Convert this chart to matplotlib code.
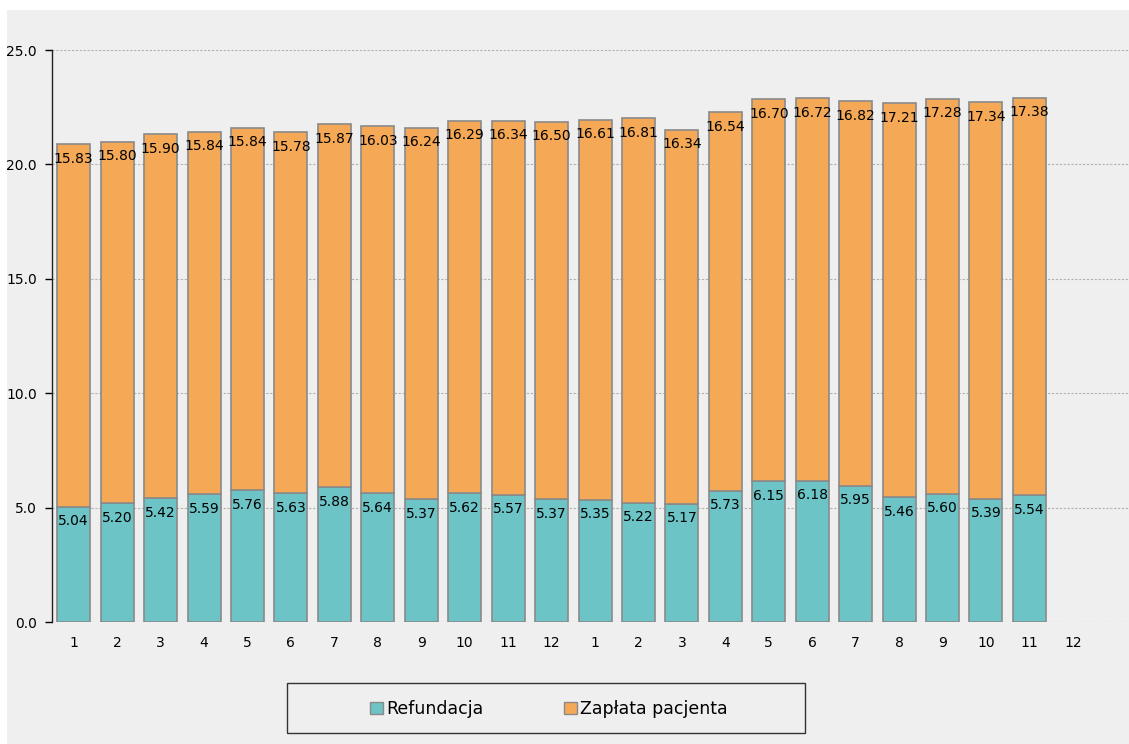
import matplotlib
matplotlib.use("Agg")
import matplotlib.pyplot as plt
from matplotlib.patches import Rectangle, Patch

months = ["1", "2", "3", "4", "5", "6", "7", "8", "9", "10", "11", "12",
          "1", "2", "3", "4", "5", "6", "7", "8", "9", "10", "11", "12"]
refundacja = [5.04, 5.20, 5.42, 5.59, 5.76, 5.63, 5.88, 5.64, 5.37, 5.62, 5.57, 5.37,
              5.35, 5.22, 5.17, 5.73, 6.15, 6.18, 5.95, 5.46, 5.60, 5.39, 5.54]
zaplata = [15.83, 15.80, 15.90, 15.84, 15.84, 15.78, 15.87, 16.03, 16.24, 16.29, 16.34, 16.50,
           16.61, 16.81, 16.34, 16.54, 16.70, 16.72, 16.82, 17.21, 17.28, 17.34, 17.38]
yticks = [0.0, 5.0, 10.0, 15.0, 20.0, 25.0]

W, H = 1129, 744
fig = plt.figure(figsize=(W / 100, H / 100), dpi=100)
fig.patch.set_facecolor("white")
bg = "#efefef"
fig.patches.append(Rectangle((7 / W, 0), 1 - 7 / W, 1 - 10 / H, transform=fig.transFigure,
                             facecolor=bg, edgecolor="none", zorder=-10))

left = 52 / W
right = 1135 / W
bottom = 1 - 622 / H
top = 1 - 50 / H
ax = fig.add_axes([left, bottom, right - left, top - bottom])
ax.set_facecolor(bg)

teal = "#6cc4c6"
orange = "#f5a855"
edge = "#8a8a8a"
n = len(refundacja)
x = list(range(n))
ax.bar(x, refundacja, width=0.76, color=teal, edgecolor=edge, linewidth=1.2, zorder=3)
ax.bar(x, zaplata, width=0.76, bottom=refundacja, color=orange, edgecolor=edge, linewidth=1.2, zorder=3)

fs = 10
for i in range(n):
    ax.annotate(f"{refundacja[i]:.2f}", (i, refundacja[i]), xytext=(0, -10.5),
                textcoords="offset points", ha="center", va="center", fontsize=fs, zorder=5)
    tot = refundacja[i] + zaplata[i]
    ax.annotate(f"{zaplata[i]:.2f}", (i, tot), xytext=(0, -10.5),
                textcoords="offset points", ha="center", va="center", fontsize=fs, zorder=5)

ax.set_ylim(0, 25)
ax.set_xlim(-0.5, (1135 - 74) / 43.43)
ax.set_yticks(yticks)
ax.set_yticklabels([f"{v:.1f}" for v in yticks], fontsize=10)
ax.set_xticks(range(len(months)))
ax.set_xticklabels(months, fontsize=10)
ax.tick_params(axis="x", length=0, pad=10)
ax.tick_params(axis="y", length=5, width=1, pad=6)
ax.yaxis.grid(True, color="#b0b0b0", linestyle=(0, (2, 1.5)), linewidth=0.8, zorder=1)
for s in ["top", "right", "bottom"]:
    ax.spines[s].set_visible(False)
ax.spines["left"].set_color("#222222")
ax.spines["left"].set_linewidth(1)
ax.spines["left"].set_zorder(4)

# legend frame
fig.patches.append(Rectangle((287 / W, 1 - 733 / H), (805 - 287) / W, (733 - 683) / H,
                             transform=fig.transFigure, facecolor=bg, edgecolor="#333333",
                             linewidth=1, zorder=-5))
handles = [Patch(facecolor=teal, edgecolor=edge, label="Refundacja"),
           Patch(facecolor=orange, edgecolor=edge, label="Zapłata pacjenta")]
leg = fig.legend(handles=handles, loc="center", bbox_to_anchor=(549 / W, 1 - 709 / H),
                 ncol=2, frameon=False, fontsize=12.5, handlelength=0.75, handleheight=0.75,
                 handletextpad=0.2, columnspacing=4.6)

fig.savefig("out.png", dpi=100, facecolor=fig.get_facecolor())
